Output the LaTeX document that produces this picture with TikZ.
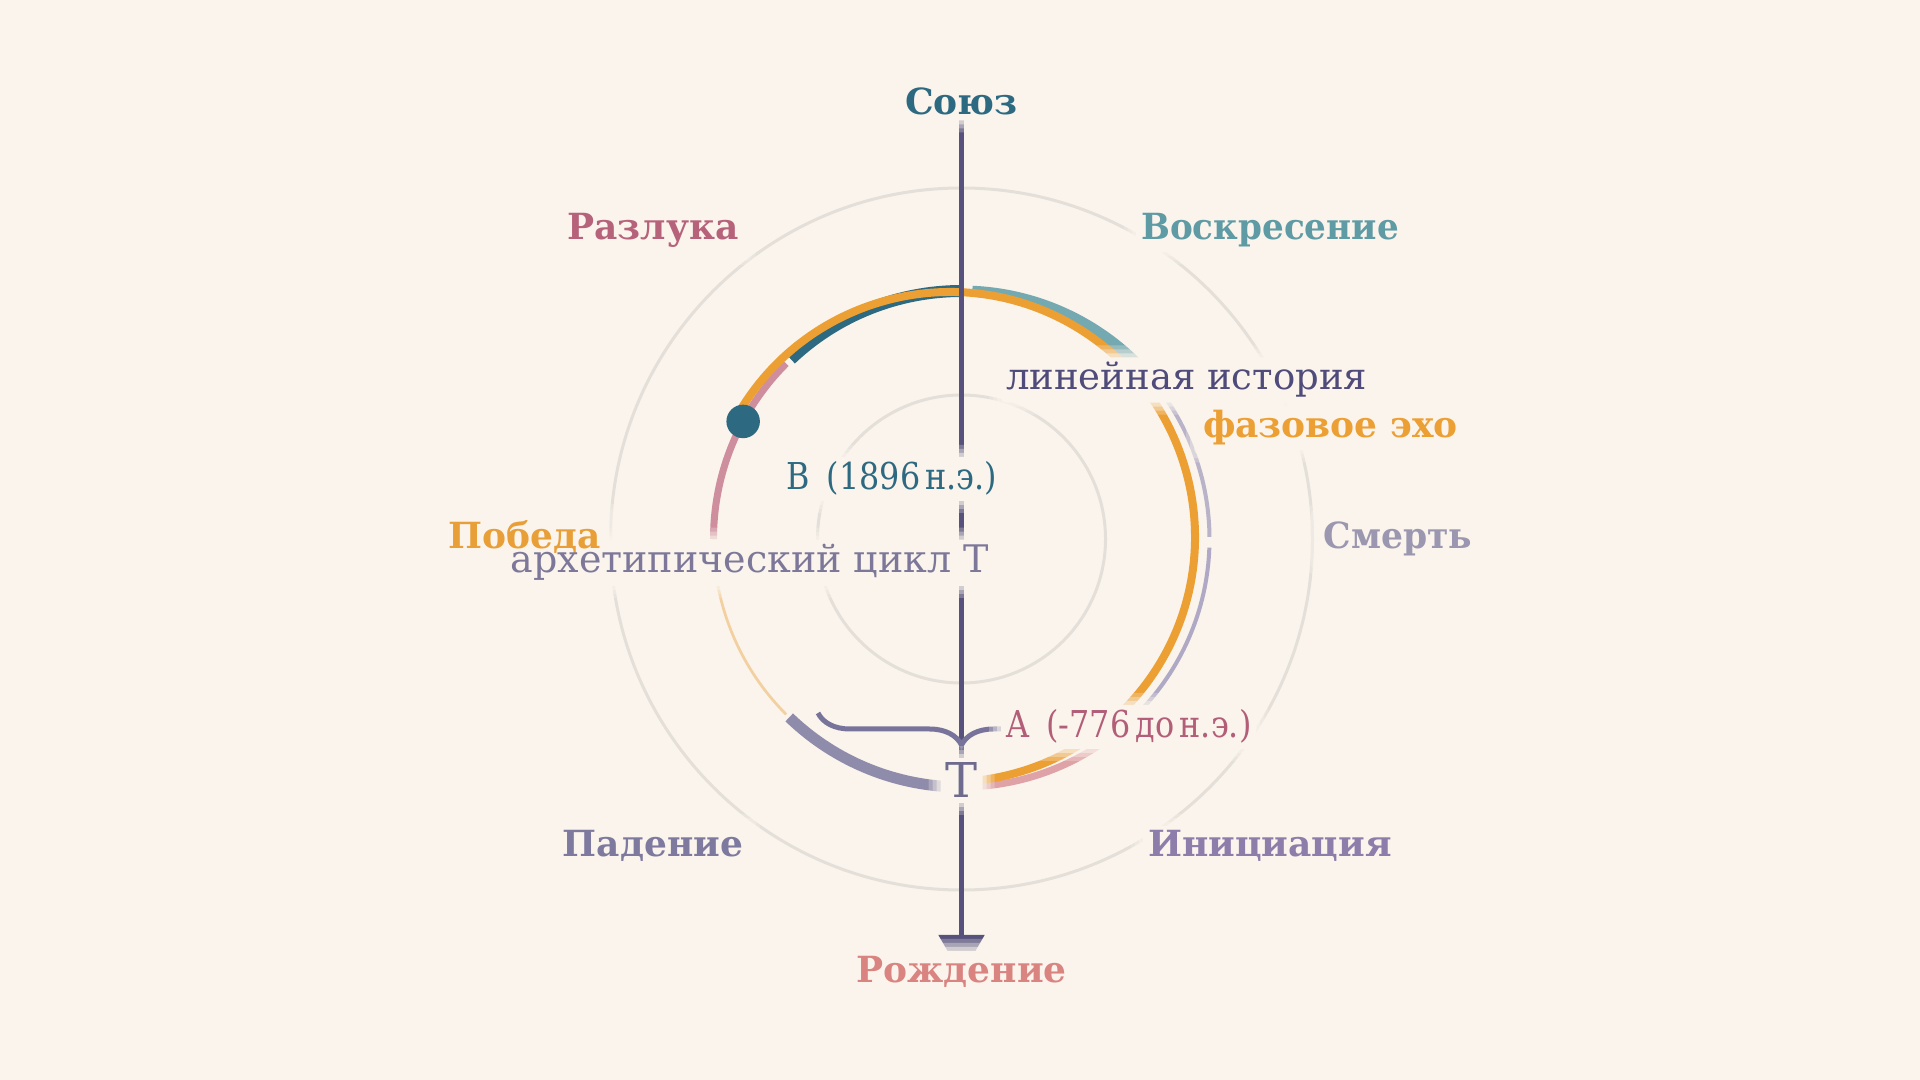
\documentclass[tikz,border=0pt]{standalone}
\usepackage{fontspec}
\setmainfont{DejaVu Serif}
\usetikzlibrary{arrows.meta,decorations.pathreplacing,calc}
\definecolor{bgc}{HTML}{FAF4EC}
\definecolor{cteal}{HTML}{2D6A81}
\definecolor{crazl}{HTML}{B7627B}
\definecolor{crazlarc}{HTML}{CF8E9E}
\definecolor{cvoskr}{HTML}{5F9BA4}
\definecolor{cvoskrarc}{HTML}{74A9B1}
\definecolor{csmert}{HTML}{9C97B0}
\definecolor{csmertarc}{HTML}{B9B3CA}
\definecolor{cinit}{HTML}{8C7DAB}
\definecolor{cinitarc}{HTML}{B0A9C6}
\definecolor{crozhd}{HTML}{DA8482}
\definecolor{crozhdarc}{HTML}{DFA2A6}
\definecolor{cpaden}{HTML}{7D799F}
\definecolor{cpadenarc}{HTML}{8F8BAA}
\definecolor{cpobeda}{HTML}{E99F38}
\definecolor{cpobedaarc}{HTML}{F3D0A0}
\definecolor{corange}{HTML}{EC9F33}
\definecolor{clin}{HTML}{4F4B7A}
\definecolor{cline}{HTML}{56527D}
\definecolor{cAlab}{HTML}{B35E78}
\definecolor{carch}{HTML}{7D7899}
\definecolor{cT}{HTML}{6F6B8F}
\definecolor{cbrace}{HTML}{77739A}
\definecolor{cring}{HTML}{E4DFD8}
\pgfdeclarelayer{bgl}
\pgfdeclarelayer{arcs}
\pgfdeclarelayer{halo}
\pgfsetlayers{bgl,arcs,halo,main}
\newcommand\halo[1]{%
  \begin{pgfonlayer}{halo}
    \foreach \m/\o in {14/0.25,10/0.35,6/0.5,2/1}{%
      \fill[bgc,opacity=\o,rounded corners=2pt]
        ([shift={(-\m,-\m)}]#1.south west) rectangle ([shift={(\m,\m)}]#1.north east);}
  \end{pgfonlayer}}
\tikzset{
  lab/.style={font=\fontsize{14.4pt}{16pt}\selectfont\bfseries, inner sep=1pt, anchor=base},
  txt/.style={font=\fontsize{14.8pt}{16pt}\selectfont, inner sep=1pt},
  seg/.style={line width=#1},
  ringst/.style={draw=cring, line width=1.2pt},
  vline/.style={draw=cline, line width=2pt, -{Triangle[width=18pt,length=16pt]}},
  bracest/.style={draw=cbrace, line width=2pt, decorate, decoration={brace,mirror,amplitude=12.8pt}},
  dotst/.style={circle, fill=cteal, minimum size=13.4pt, inner sep=0pt}
}
\begin{document}
\begin{tikzpicture}[x=0.4pt,y=0.4pt]
\begin{pgfonlayer}{bgl}
  \fill[bgc] (0,0) rectangle (1920,1080);
\end{pgfonlayer}
\useasboundingbox (0,0) rectangle (1920,1080);
\coordinate (C) at (961.5,541);
\coordinate (E) at (950,543);

% labels
\node[lab, text=cteal] (soyuz) at (961.5,965) {Союз};
\node[lab, text=crazl] (razl) at (653,840) {Разлука};
\node[lab, text=cvoskr] (voskr) at (1270,840) {\scalebox{0.95}[1]{Воскресение}};
\node[lab, text=csmert] (smert) at (1398,531) {\scalebox{0.96}[1]{Смерть}};
\node[lab, text=cpobeda] (pobeda) at (524.5,531) {Победа};
\node[lab, text=cinit] (initsi) at (1270,223) {Инициация};
\node[lab, text=cpaden] (paden) at (653,223) {Падение};
\node[lab, text=crozhd] (rozhd) at (961.5,98) {Рождение};
\node[txt, text=clin, anchor=base west] (lin) at (1003,690) {линейная история};
\node[txt, text=corange, anchor=base west, font=\fontsize{14.4pt}{16pt}\selectfont\bfseries] (faz) at (1200,642) {фазовое эхо};
\node[txt, text=cteal, anchor=base west] (Blab) at (783,590) {\scalebox{0.86}[1]{B\hspace{0.55em}(1896\,н.э.)}};
\node[txt, text=carch, anchor=base east, font=\fontsize{15.2pt}{16pt}\selectfont] (arch) at (992,507) {архетипический цикл T};
\node[txt, text=cAlab, anchor=base west] (Alab) at (1003,342) {\scalebox{0.86}[1]{A\hspace{0.55em}(-776\,до\,н.э.)}};
\node[txt, text=cT, anchor=base, font=\fontsize{19.2pt}{20pt}\selectfont] (Tbot) at (961.5,282) {T};

\foreach \n in {soyuz,razl,voskr,smert,pobeda,initsi,paden,rozhd,lin,faz,Blab,arch,Alab,Tbot}{\halo{\n}}

\begin{pgfonlayer}{arcs}
  \draw[ringst] (C) circle (351);
  \draw[ringst] (C) circle (144);
  % sector segments
  \draw[seg=4.8pt, cteal]      ($(C)+(90:248)$)   arc (90:133.5:248);
  \draw[seg=2.8pt, crazlarc]   ($(C)+(135:248)$)  arc (135:180:248);
  \draw[seg=1.1pt, cpobedaarc] ($(C)+(180:248)$)  arc (180:225:248);
  \draw[seg=4.4pt, cpadenarc]  ($(C)+(226:248)$)  arc (226:270:248);
  \draw[seg=2.8pt, crozhdarc]  ($(C)+(270:248)$)  arc (270:314:248);
  \draw[seg=1.6pt, cinitarc]   ($(C)+(315:248)$)  arc (315:358:248);
  \draw[seg=1.6pt, csmertarc]  ($(C)+(0.5:248)$)  arc (0.5:45:248);
  \draw[seg=4.4pt, cvoskrarc]  ($(C)+(45:248)$)   arc (45:87.5:248);
  % phase echo
  \draw[seg=3.2pt, corange] ($(E)+(149:245)$) arc (149:-90:245);
  % marker
  \node[dotst] (dotB) at ($(C)+(151.7:248)$) {};
  % axis
  \coordinate (tip) at (961.5,105);
  \draw[vline] (soyuz.base) -- (tip);
  % brace
  \coordinate (brL) at (818,367);
  \coordinate (brR) at (1105,367);
  \draw[bracest] (brL) -- (brR);
\end{pgfonlayer}
\end{tikzpicture}
\end{document}
